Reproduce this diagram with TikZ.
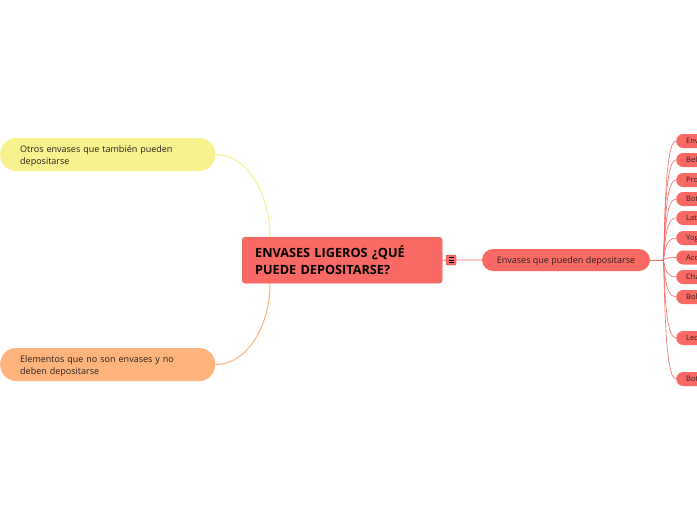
\documentclass[tikz,border=0pt]{standalone}
\usepackage{fontspec}
\setmainfont{Open Sans}
\usetikzlibrary{calc}
\pgfdeclarelayer{background}
\pgfsetlayers{background,main}
\definecolor{redfill}{RGB}{250,106,100}
\definecolor{redline}{RGB}{250,106,100}
\definecolor{yelfill}{RGB}{247,242,142}
\definecolor{yelline}{RGB}{247,238,140}
\definecolor{orfill}{RGB}{255,180,125}
\definecolor{orline}{RGB}{255,175,120}
\definecolor{txt}{RGB}{40,30,30}
\tikzset{
  x=1pt,y=-1pt,
  central/.style={fill=redfill, draw=redfill!85!black, line width=0.3pt, rounded corners=3pt, anchor=north west,
    minimum width=200pt, minimum height=46pt, text width=174pt, inner xsep=13pt, align=left,
    font=\fontsize{12.7}{17}\selectfont\bfseries, text=black, text height=9pt, text depth=14.6pt},
  leftbox/.style={rounded corners=16pt, anchor=west, minimum height=33pt, text width=175pt, inner xsep=20pt,
    align=left, font=\fontsize{9}{12}\selectfont, text=txt, text height=6.5pt, text depth=11.1pt},
  midbox/.style={fill=redfill, rounded corners=11pt, minimum width=168pt, minimum height=22pt,
    font=\fontsize{9}{11}\selectfont, text=txt, text height=6.5pt, text depth=0pt},
  childbox/.style={fill=redfill, rounded corners=7pt, anchor=west, minimum height=14pt, text width=34pt,
    inner xsep=10pt, inner ysep=0pt, align=left, font=\fontsize{7.5}{8}\selectfont, text=txt,
    text height=5.3pt, text depth=0pt},
  branch/.style={draw=redline, line width=0.8pt},
}
\begin{document}
\begin{tikzpicture}
\useasboundingbox (0,0) rectangle (697,520);
\begin{scope}
\clip (0,0) rectangle (697,520);
\node[central] (root) at (242,237) {ENVASES LIGEROS ¿QUÉ\\PUEDE DEPOSITARSE?};
\node[leftbox, fill=yelfill] (otros) at (0,154.5) {Otros envases que también pueden\\depositarse};
\node[leftbox, fill=orfill] (elem) at (0,364.5) {Elementos que no son envases y no\\deben depositarse};
\node[midbox] (mid) at (566,260) {Envases que pueden depositarse};
\node[fill=redfill, draw=redfill!70!black, line width=0.4pt, rounded corners=1pt, minimum width=10pt, minimum height=10pt, inner sep=0pt] (icon) at (451,260) {};
\draw[black, line width=0.7pt] ($(icon.center)+(-2.5,-2.3)$) -- ++(5,0)
  ($(icon.center)+(-2.5,0)$) -- ++(5,0)
  ($(icon.center)+(-2.5,2.3)$) -- ++(5,0);
\coordinate (hub) at (663,260);
\node[childbox] (c1) at (676,141) {Env};
\node[childbox] (c2) at (676,160) {Bel};
\node[childbox] (c3) at (676,180) {Pro};
\node[childbox] (c4) at (676,199) {Bot};
\node[childbox] (c5) at (676,218) {Lat};
\node[childbox] (c6) at (676,238) {Yog};
\node[childbox] (c7) at (676,257.5) {Acc};
\node[childbox] (c8) at (676,277) {Cha};
\node[childbox] (c9) at (676,297) {Bol};
\node[childbox] (c10) at (676,338) {Lec};
\node[childbox] (c11) at (676,379) {Bot};
\begin{pgfonlayer}{background}
\draw[yelline, line width=1pt] (otros.east) .. controls (248,154.5) and (270,195) .. ($(root.north west)+(28,0)$);
\draw[orline, line width=1pt] (elem.east) .. controls (248,364.5) and (270,325) .. ($(root.south west)+(28,0)$);
\draw[branch] (root.east) -- (mid.west);
\draw[branch] (mid.east) -- (hub);
\foreach \c in {c1,c2,c3,c4,c5,c6,c7,c8,c9,c10,c11}{
  \draw[branch, line width=0.6pt] (hub) .. controls ($(hub)+(2,0)$) and (hub |- \c.west) .. (\c.west);
}
\end{pgfonlayer}
\end{scope}
\end{tikzpicture}
\end{document}
